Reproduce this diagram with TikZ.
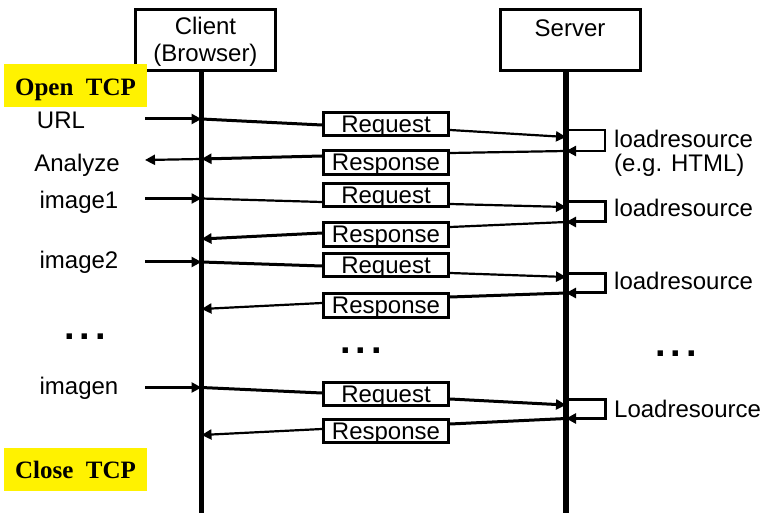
\documentclass[tikz,border=0pt]{standalone}
\usepackage{fontspec}
\setmainfont{Liberation Sans}
\newfontfamily\tcpfont{Liberation Serif}
\usetikzlibrary{arrows.meta,calc}

\begin{document}
\begin{tikzpicture}[x=1pt,y=-1pt,
  every node/.style={font=\fontsize{24}{27}\selectfont, inner sep=0pt},
  actor/.style={draw, line width=3pt, minimum width=140pt, minimum height=61pt,
    align=center},
  msgbox/.style={draw, line width=2.7pt, fill=white, minimum width=125.5pt,
    minimum height=23.5pt, text height=17pt, text depth=0pt},
  tcp/.style={fill=yellow, minimum width=143pt, minimum height=43pt,
    font=\tcpfont\bfseries\fontsize{25}{30}\selectfont, text height=17pt, text depth=0pt},
  lifeline/.style={line width=5.5pt},
  msg/.style={line width=2.2pt},
  msgb/.style={line width=3pt},
  tip/.style={-{Triangle[length=10pt,width=10pt]}},
  note/.style={anchor=base west},
  side/.style={anchor=base},
  dots/.style={anchor=base, font=\bfseries\fontsize{38}{40}\selectfont}
]
\useasboundingbox (0,0) rectangle (769,513);

% participants and their lifelines
\node[actor, text height=44pt, text depth=0pt] (client) at (205.5,40) {Client\\(Browser)};
\node[actor, text height=17pt, text depth=23pt] (server) at (570,40) {Server};
\coordinate (cend) at (201.5,513);
\coordinate (send) at (566,513);
\draw[lifeline] (client.south -| cend) -- (cend);
\draw[lifeline] (server.south -| send) -- (send);

% connection open / close
\node[tcp, text height=21pt] (open) at (75.5,85.5) {Open~~TCP};
\node[tcp] (close) at (75.5,469.5) {Close~~TCP};

% message boxes
\node[msgbox] (req1)  at (386,124)   {Request};
\node[msgbox] (resp1) at (386,162.5) {Response};
\node[msgbox] (req2)  at (386,195)   {Request};
\node[msgbox] (resp2) at (386,234.5) {Response};
\node[msgbox] (req3)  at (386,265)   {Request};
\node[msgbox] (resp3) at (386,305.5) {Response};
\node[msgbox] (req4)  at (386,394)   {Request};
\node[msgbox] (resp4) at (386,431)   {Response};

% points on the client lifeline
\coordinate (cq1) at (201.5,119);
\coordinate (cr1) at (201.5,159);
\coordinate (cq2) at (201.5,198.5);
\coordinate (cr2) at (201.5,239);
\coordinate (cq3) at (201.5,262);
\coordinate (cr3) at (201.5,309);
\coordinate (cq4) at (201.5,387.5);
\coordinate (cr4) at (201.5,435);

% points on the server lifeline: request in, loop top, loop end / response out
\coordinate (sq1) at (566,137);   \coordinate (st1) at (566,130); \coordinate (sb1) at (566,151);
\coordinate (sq2) at (566,207);   \coordinate (st2) at (566,202); \coordinate (sb2) at (566,222);
\coordinate (sq3) at (566,277);   \coordinate (st3) at (566,274); \coordinate (sb3) at (566,293);
\coordinate (sq4) at (566,405);   \coordinate (st4) at (566,399); \coordinate (sb4) at (566,418.5);

% outer ends of the client-side arrows
\coordinate (urlA) at (145,119);
\coordinate (anaA) at (145,160);
\coordinate (im1A) at (145,198.5);
\coordinate (im2A) at (145,262);
\coordinate (imnA) at (145,387.5);

% client-side labels
\node[side] (urlT) at (61,128.5) {URL};
\node[side] (anaT) at (77,171.5) {Analyze};
\node[side] (im1T) at (79,209) {image1};
\node[side] (im2T) at (79,268.5) {image2};
\node[side] (imnT) at (79,394.5) {imagen};

% client-side arrows
\draw[msgb,tip] (urlA) -- (cq1);
\draw[msg,tip]  (cr1) -- (anaA);
\draw[msg,tip]  (im1A) -- (cq2);
\draw[msgb,tip] (im2A) -- (cq3);
\draw[msgb,tip] (imnA) -- (cq4);

% exchange 1
\draw[msgb] (cq1) -- ($(req1.west)+(0,1)$);
\draw[msg,tip] ($(req1.east)+(0,6)$) -- (sq1);
\draw[msg,tip] (st1) -- ++(39,0) |- (sb1);
\draw[msg] (sb1) -- ($(resp1.east)+(0,-9.5)$);
\draw[msgb,tip] ($(resp1.west)+(0,-6.5)$) -- (cr1);

% exchange 2
\draw[msg] (cq2) -- ($(req2.west)+(0,7)$);
\draw[msg,tip] ($(req2.east)+(0,9)$) -- (sq2);
\draw[msgb,tip] (st2) -- ++(39,0) |- (sb2);
\draw[msg] (sb2) -- ($(resp2.east)+(0,-7.5)$);
\draw[msgb,tip] ($(resp2.west)+(0,-1.5)$) -- (cr2);

% exchange 3
\draw[msgb] (cq3) -- ($(req3.west)+(0,1)$);
\draw[msg,tip] ($(req3.east)+(0,8)$) -- (sq3);
\draw[msgb,tip] (st3) -- ++(39,0) |- (sb3);
\draw[msgb] (sb3) -- ($(resp3.east)+(0,-8.5)$);
\draw[msg,tip] ($(resp3.west)+(0,-2.5)$) -- (cr3);

% exchange n
\draw[msgb] (cq4) -- ($(req4.west)+(0,-1)$);
\draw[msgb,tip] ($(req4.east)+(0,5)$) -- (sq4);
\draw[msgb,tip] (st4) -- ++(39,0) |- (sb4);
\draw[msgb] (sb4) -- ($(resp4.east)+(0,-7)$);
\draw[msg,tip] ($(resp4.west)+(0,-2)$) -- (cr4);

% server-side labels
\node[note, align=left, font=\fontsize{24}{24}\selectfont] (load1) at (614,172) {loadresource\\(e.g. HTML)};
\node[note] (load2) at (614,217) {loadresource};
\node[note] (load3) at (614,290) {loadresource};
\node[note] (load4) at (614,417) {Loadresource};

% ellipses
\node[dots] (dl) at (85,340)  {.\kern5pt.\kern5pt.};
\node[dots] (dm) at (361,353) {.\kern5pt.\kern5pt.};
\node[dots] (dr) at (676,356) {.\kern5pt.\kern5pt.};
\end{tikzpicture}
\end{document}
